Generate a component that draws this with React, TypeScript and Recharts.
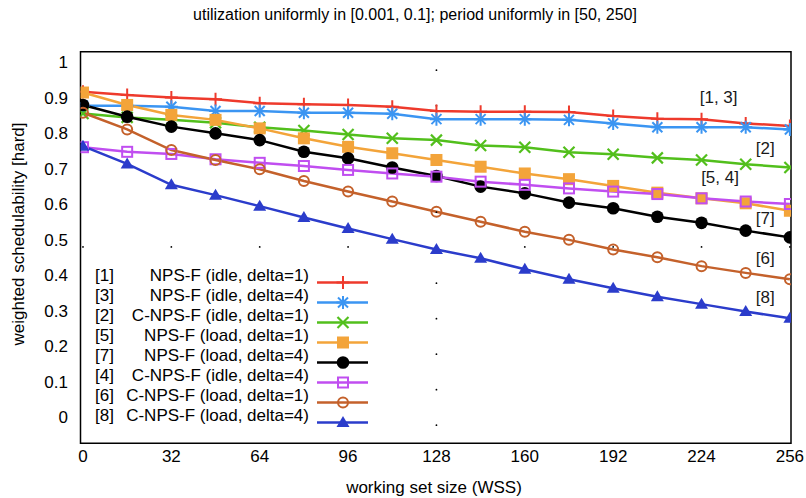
import React from 'react';
import {
  LineChart, Line, XAxis, YAxis, Legend, ReferenceArea, ReferenceDot,
} from 'recharts';

const FONT = '"Liberation Sans", Arial, Helvetica, sans-serif';

// working set sizes
const wss = [0, 16, 32, 48, 64, 80, 96, 112, 128, 144, 160, 176, 192, 208, 224, 240, 256];

// weighted schedulability per algorithm
const npsIdle1 = [0.916, 0.907, 0.900, 0.895, 0.884, 0.881, 0.879, 0.874, 0.862, 0.860, 0.860, 0.859, 0.848, 0.840, 0.839, 0.827, 0.820];
const npsIdle4 = [0.877, 0.877, 0.874, 0.862, 0.862, 0.857, 0.857, 0.854, 0.839, 0.839, 0.839, 0.837, 0.827, 0.816, 0.816, 0.816, 0.810];
const cnpsIdle1 = [0.855, 0.844, 0.837, 0.829, 0.816, 0.807, 0.796, 0.785, 0.780, 0.765, 0.760, 0.746, 0.740, 0.730, 0.724, 0.712, 0.703];
const npsLoad1 = [0.914, 0.879, 0.851, 0.837, 0.813, 0.785, 0.761, 0.743, 0.724, 0.705, 0.686, 0.670, 0.651, 0.632, 0.616, 0.602, 0.581];
const npsLoad4 = [0.879, 0.846, 0.818, 0.799, 0.780, 0.747, 0.729, 0.703, 0.679, 0.649, 0.630, 0.604, 0.588, 0.564, 0.547, 0.525, 0.506];
const cnpsIdle4 = [0.760, 0.747, 0.741, 0.726, 0.716, 0.707, 0.696, 0.686, 0.677, 0.663, 0.654, 0.644, 0.635, 0.628, 0.616, 0.607, 0.600];
const cnpsLoad1 = [0.857, 0.810, 0.752, 0.724, 0.698, 0.665, 0.635, 0.607, 0.578, 0.550, 0.522, 0.499, 0.472, 0.450, 0.425, 0.406, 0.388];
const cnpsLoad4 = [0.763, 0.713, 0.654, 0.625, 0.594, 0.562, 0.531, 0.501, 0.472, 0.447, 0.416, 0.388, 0.363, 0.339, 0.318, 0.297, 0.278];

const xTicks = [0, 32, 64, 96, 128, 160, 192, 224, 256];
const yTicks = [0, 0.1, 0.2, 0.3, 0.4, 0.5, 0.6, 0.7, 0.8, 0.9, 1];

// gnuplot's sparse dotted grid: one row and one column show
const gridRowY = 0.479;
const gridColX = 128;
const gridColY = [0.977, 0.877, 0.777, 0.677, 0.577, 0.477, 0.377, 0.277, 0.177, 0.077, -0.023];

const annotations = [
  { x: 230.2, y: 0.901, text: '[1, 3]' },
  { x: 247.1, y: 0.757, text: '[2]' },
  { x: 230.7, y: 0.677, text: '[5, 4]' },
  { x: 247.1, y: 0.560, text: '[7]' },
  { x: 247.1, y: 0.447, text: '[6]' },
  { x: 247.1, y: 0.339, text: '[8]' },
];

const series = [
  { key: 'npsIdle1', idx: '[1]', name: 'NPS-F (idle, delta=1)', color: '#ee3a2c', shape: 'plus', values: npsIdle1 },
  { key: 'npsIdle4', idx: '[3]', name: 'NPS-F (idle, delta=4)', color: '#3b95f2', shape: 'star', values: npsIdle4 },
  { key: 'cnpsIdle1', idx: '[2]', name: 'C-NPS-F (idle, delta=1)', color: '#52bf1c', shape: 'cross', values: cnpsIdle1 },
  { key: 'npsLoad1', idx: '[5]', name: 'NPS-F (load, delta=1)', color: '#f3a43a', shape: 'square', values: npsLoad1 },
  { key: 'npsLoad4', idx: '[7]', name: 'NPS-F (load, delta=4)', color: '#000000', shape: 'circle', values: npsLoad4 },
  { key: 'cnpsIdle4', idx: '[4]', name: 'C-NPS-F (idle, delta=4)', color: '#c04ef0', shape: 'openSquare', values: cnpsIdle4 },
  { key: 'cnpsLoad1', idx: '[6]', name: 'C-NPS-F (load, delta=1)', color: '#c4612b', shape: 'openCircle', values: cnpsLoad1 },
  { key: 'cnpsLoad4', idx: '[8]', name: 'C-NPS-F (load, delta=4)', color: '#2b3ccb', shape: 'triangle', values: cnpsLoad4 },
];

const rows = wss.map((w, i) => {
  const r: Record<string, number> = { wss: w };
  series.forEach((s) => { r[s.key] = s.values[i]; });
  return r;
});

function Marker({ shape, cx, cy, color }: { shape: string; cx: number; cy: number; color: string }) {
  if (cx == null || cy == null) return null;
  switch (shape) {
    case 'plus':
      return (
        <g stroke={color} strokeWidth={2}>
          <line x1={cx - 6.5} y1={cy} x2={cx + 6.5} y2={cy} />
          <line x1={cx} y1={cy - 6.5} x2={cx} y2={cy + 6.5} />
        </g>
      );
    case 'star':
      return (
        <g stroke={color} strokeWidth={2}>
          <line x1={cx - 6.5} y1={cy} x2={cx + 6.5} y2={cy} />
          <line x1={cx} y1={cy - 6.5} x2={cx} y2={cy + 6.5} />
          <line x1={cx - 5} y1={cy - 5} x2={cx + 5} y2={cy + 5} />
          <line x1={cx - 5} y1={cy + 5} x2={cx + 5} y2={cy - 5} />
        </g>
      );
    case 'cross':
      return (
        <g stroke={color} strokeWidth={2.2}>
          <line x1={cx - 5.5} y1={cy - 5.5} x2={cx + 5.5} y2={cy + 5.5} />
          <line x1={cx - 5.5} y1={cy + 5.5} x2={cx + 5.5} y2={cy - 5.5} />
        </g>
      );
    case 'square':
      return <rect x={cx - 6} y={cy - 6} width={12} height={12} fill={color} />;
    case 'circle':
      return <circle cx={cx} cy={cy} r={6.3} fill={color} />;
    case 'openSquare':
      return <rect x={cx - 5} y={cy - 5} width={10} height={10} fill="none" stroke={color} strokeWidth={2} />;
    case 'openCircle':
      return <circle cx={cx} cy={cy} r={5} fill="none" stroke={color} strokeWidth={2} />;
    case 'triangle':
      return <polygon points={`${cx},${cy - 6.5} ${cx - 6.5},${cy + 4.5} ${cx + 6.5},${cy + 4.5}`} fill={color} />;
    default:
      return null;
  }
}

const LegendBox = () => (
  <svg width={300} height={165} style={{ display: 'block', fontFamily: FONT }}>
    {series.map((s, i) => {
      const base = 19 + i * 20;
      const ly = base + 1.5;
      return (
        <g key={s.key}>
          <text x={7} y={base} fontSize={17} fill="#000">{s.idx}</text>
          <text x={221} y={base} fontSize={17} fill="#000" textAnchor="end">{s.name}</text>
          <line x1={229} y1={ly} x2={280} y2={ly} stroke={s.color} strokeWidth={2.5} />
          <Marker shape={s.shape} cx={255} cy={ly} color={s.color} />
        </g>
      );
    })}
  </svg>
);

export default function App() {
  return (
    <div style={{ position: 'absolute', left: 0, top: 0, width: 806, height: 498, background: '#fff', fontFamily: FONT }}>
      <LineChart width={806} height={498} data={rows} margin={{ top: 51.7, right: 15, bottom: 0, left: 0 }}>
        <XAxis
          dataKey="wss"
          type="number"
          domain={[-0.9, 256.4]}
          allowDataOverflow
          ticks={xTicks}
          interval={0}
          tickLine={false}
          axisLine={false}
          tickSize={0}
          tickMargin={7}
          height={54.7}
          tick={{ fill: '#000', fontSize: 17, fontFamily: FONT }}
          label={{
            content: () => (
              <text x={434} y={493} textAnchor="middle" fontSize={17} fill="#000" fontFamily={FONT}>
                working set size (WSS)
              </text>
            ),
          }}
        />
        <YAxis
          type="number"
          domain={[-0.074, 1.029]}
          allowDataOverflow
          ticks={yTicks}
          interval={0}
          tickFormatter={(v: number) => String(v)}
          tickLine={false}
          axisLine={false}
          tickSize={0}
          tickMargin={12.5}
          width={80.5}
          tick={{ fill: '#000', fontSize: 17, fontFamily: FONT }}
          label={{
            content: () => (
              <text
                x={17.5}
                y={234}
                transform="rotate(-90 17.5 234)"
                textAnchor="middle"
                dy="0.355em"
                fontSize={17}
                fill="#000"
                fontFamily={FONT}
              >
                weighted schedulability [hard]
              </text>
            ),
          }}
        />
        <ReferenceArea x1={-0.9} x2={256.4} y1={-0.074} y2={1.029} fill="none" stroke="#000" strokeWidth={1.5} />
        {xTicks.map((x) => (
          <ReferenceDot key={`gr-${x}`} x={x} y={gridRowY} r={0.9} fill="#000" stroke="none" />
        ))}
        {gridColY.map((y) => (
          <ReferenceDot key={`gc-${y}`} x={gridColX} y={y} r={0.9} fill="#000" stroke="none" />
        ))}
        {series.map((s) => (
          <Line
            key={s.key}
            type="linear"
            dataKey={s.key}
            name={s.name}
            stroke={s.color}
            strokeWidth={2.5}
            isAnimationActive={false}
            activeDot={false}
            dot={(p: any) => (
              <Marker key={`${s.key}-${p.index}`} shape={s.shape} cx={p.cx} cy={p.cy} color={s.color} />
            )}
          />
        ))}
        {annotations.map((a) => (
          <ReferenceDot
            key={a.text}
            x={a.x}
            y={a.y}
            r={1}
            shape={(p: any) => (
              <text x={p.cx} y={p.cy} dy="0.355em" textAnchor="middle" fontSize={17} fill="#1a1a1a" fontFamily={FONT}>
                {a.text}
              </text>
            )}
          />
        ))}
        <Legend
          layout="vertical"
          align="center"
          verticalAlign="middle"
          wrapperStyle={{ left: 88, top: 262, width: 300, height: 165 }}
          content={() => <LegendBox />}
        />
      </LineChart>
      <div
        style={{
          position: 'absolute', left: 0, top: 7, width: 806, paddingLeft: 24, boxSizing: 'border-box',
          textAlign: 'center', fontSize: 16, lineHeight: '16px', color: '#000',
        }}
      >
        utilization uniformly in [0.001, 0.1]; period uniformly in [50, 250]
      </div>
    </div>
  );
}
